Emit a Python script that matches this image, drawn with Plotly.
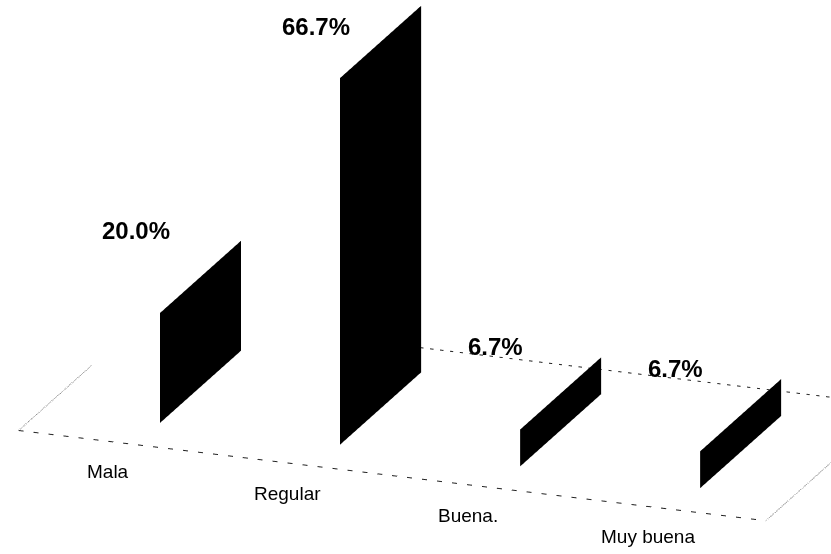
import plotly.graph_objects as go
import numpy as np

# ---- data ----
categories = ["Mala", "Regular", "Buena.", "Muy buena"]
values = [20.0, 66.7, 6.7, 6.7]
value_labels = ["20.0%", "66.7%", "6.7%", "6.7%"]

# ---- layout constants (3D geometry, not data) ----
pos = np.arange(len(categories), dtype=float)   # category positions on x
bar_y0, bar_y1 = 0.3, 1.3                      # bar panel depth span
floor_x0, floor_x1 = -0.65, 3.5
floor_y0, floor_y1 = 0.0, 1.6

# pixel length per data unit (design) and scene normalisation
Lx, Ly, Lz = 191.9, 234.8, 5.82
D = 3.0
K = 1.243 * 277.0 / (D * np.tan(np.pi / 8))
cx, cy, cz = 1.194, 0.8, 24.7
hx, hy, hz = 2.35, 0.85, 56.0
xr = [cx - hx, cx + hx]
yr = [cy - hy, cy + hy]
zr = [cz - hz, cz + hz]
ar = dict(x=2 * hx * Lx / K, y=2 * hy * Ly / K, z=2 * hz * Lz / K)
eye_dir = np.array([0.326, -0.886, 0.328])
eye_dir = eye_dir / np.linalg.norm(eye_dir) * D

# ---- bars as flat panels ----
X, Y, Z, I, J, Kf = [], [], [], [], [], []
for p, v in zip(pos, values):
    n = len(X)
    X += [p, p, p, p]
    Y += [bar_y0, bar_y1, bar_y1, bar_y0]
    Z += [0, 0, v, v]
    I += [n, n]
    J += [n + 1, n + 2]
    Kf += [n + 2, n + 3]

fig = go.Figure()
fig.add_trace(go.Mesh3d(
    x=X, y=Y, z=Z, i=I, j=J, k=Kf,
    color="black", flatshading=True,
    lighting=dict(ambient=1, diffuse=0, specular=0, fresnel=0, roughness=1),
    hoverinfo="skip", showscale=False,
))

line_style = dict(color="#222222", width=2)
edge_style = dict(color="#555555", width=2, dash="dot")
# front edge
fig.add_trace(go.Scatter3d(x=[floor_x0, floor_x1], y=[floor_y0, floor_y0], z=[0, 0],
                           mode="lines", line=dict(**line_style, dash="dash"),
                           hoverinfo="skip", showlegend=False))
# left edge (partial)
fig.add_trace(go.Scatter3d(x=[floor_x0, floor_x0], y=[floor_y0, 0.9], z=[0, 0],
                           mode="lines", line=edge_style,
                           hoverinfo="skip", showlegend=False))
# right edge
fig.add_trace(go.Scatter3d(x=[floor_x1, floor_x1], y=[floor_y0, floor_y1], z=[0, 0],
                           mode="lines", line=edge_style,
                           hoverinfo="skip", showlegend=False))
# back edge
fig.add_trace(go.Scatter3d(x=[0.75, floor_x1], y=[floor_y1, floor_y1], z=[0, 0],
                           mode="lines", line=dict(**line_style, dash="dash"),
                           hoverinfo="skip", showlegend=False))

annotations = []
for p, v, t in zip(pos, values, value_labels):
    annotations.append(dict(
        x=p, y=0, z=min(v + 19, 80), text="<b>" + t + "</b>", showarrow=False,
        font=dict(family="Liberation Sans, Arial", size=24, color="black"),
        xanchor="center", yanchor="middle"))
for p, c in zip(pos, categories):
    annotations.append(dict(
        x=p, y=0, z=0, text=c, showarrow=False, xshift=-28, yshift=-27,
        font=dict(family="Liberation Sans, Arial", size=19, color="black"),
        xanchor="center", yanchor="middle"))

ax_off = dict(visible=False, showgrid=False, showbackground=False, zeroline=False,
              showspikes=False)
fig.update_layout(
    width=831, height=554,
    margin=dict(l=0, r=0, t=0, b=0),
    paper_bgcolor="white",
    showlegend=False,
    scene=dict(
        domain=dict(x=[0, 1], y=[0, 1]),
        bgcolor="white",
        xaxis=dict(range=xr, **ax_off),
        yaxis=dict(range=yr, **ax_off),
        zaxis=dict(range=zr, **ax_off),
        aspectmode="manual",
        aspectratio=ar,
        camera=dict(
            eye=dict(x=eye_dir[0], y=eye_dir[1], z=eye_dir[2]),
            center=dict(x=0, y=0, z=0),
            up=dict(x=0, y=0, z=1),
            projection=dict(type="orthographic"),
        ),
        annotations=annotations,
    ),
)

fig.write_html("out.html")
